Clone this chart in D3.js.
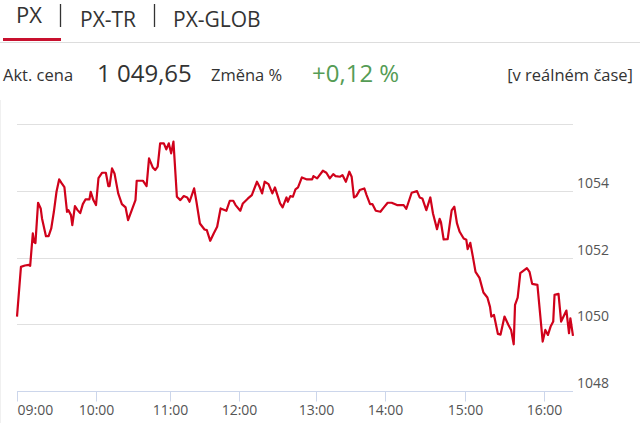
<!DOCTYPE html>
<html>
<head>
<meta charset="utf-8">
<script src="https://cdn.jsdelivr.net/npm/d3@7"></script>
<style>
  html, body { margin: 0; padding: 0; background: #fff; }
  svg { display: block; font-family: "Open Sans", sans-serif; }
</style>
</head>
<body>
<div id="chart"></div>
<script>
// tabs and header values
const tabs = ["PX", "PX-TR", "PX-GLOB"];
const priceLabel = "Akt. cena", priceValue = "1 049,65";
const changeLabel = "Změna %", changeValue = "+0,12 %";
const realtimeLabel = "[v reálném čase]";

// x tick labels (hours) and end of session shown
const xTicks = ["09:00", "10:00", "11:00", "12:00", "13:00", "14:00", "15:00", "16:00"];
const xEnd = "16:22";
// y ticks
const yTicks = [1048, 1050, 1052, 1054, 1056];

// intraday PX index values
const times = [
  "09:00","09:03","09:06","09:09","09:10","09:12","09:13","09:14","09:16","09:18",
  "09:19","09:22","09:24","09:26","09:28","09:30","09:32","09:34","09:36","09:38",
  "09:39","09:41","09:42","09:44","09:46","09:48","09:50","09:52","09:55","09:56",
  "09:58","10:00","10:02","10:05","10:08","10:10","10:11","10:13","10:15","10:18",
  "10:21","10:24","10:26","10:29","10:32","10:33","10:38","10:41","10:43","10:46",
  "10:48","10:50","10:52","10:55","10:57","10:59","11:01","11:03","11:06","11:09",
  "11:12","11:15","11:17","11:21","11:23","11:26","11:30","11:32","11:35","11:38",
  "11:41","11:44","11:49","11:52","11:55","11:57","12:01","12:03","12:07","12:10",
  "12:14","12:16","12:18","12:20","12:23","12:26","12:28","12:32","12:34","12:37",
  "12:38","12:40","12:42","12:44","12:46","12:49","12:53","12:57","12:58","13:01",
  "13:06","13:09","13:12","13:15","13:17","13:21","13:23","13:26","13:29","13:31",
  "13:33","13:35","13:38","13:42","13:44","13:47","13:49","13:52","13:56","13:59",
  "14:02","14:05","14:09","14:14","14:16","14:20","14:24","14:26","14:28","14:31",
  "14:34","14:36","14:39","14:41","14:42","14:44","14:47","14:50","14:52","14:54",
  "14:56","14:59","15:01","15:02","15:04","15:06","15:08","15:11","15:14","15:17",
  "15:19","15:20","15:22","15:25","15:27","15:30","15:33","15:35","15:37","15:38",
  "15:40","15:42","15:47","15:49","15:51","15:55","15:59","16:01","16:03","16:05",
  "16:07","16:08","16:11","16:13","16:17","16:19","16:20","16:22"
];
const values = [
  1050.23,1051.72,1051.76,1051.78,1051.75,1052.72,1052.46,1052.43,1053.64,1053.47,
  1053.17,1052.64,1052.64,1052.87,1053.37,1053.97,1054.34,1054.22,1054.11,1053.37,
  1053.42,1053.27,1052.97,1053.54,1053.42,1053.33,1053.60,1053.74,1053.74,1053.97,
  1053.72,1053.57,1054.38,1054.54,1054.54,1054.14,1054.14,1054.67,1054.52,1053.92,
  1053.60,1053.50,1053.12,1053.42,1053.72,1054.30,1054.30,1054.14,1054.97,1054.70,
  1054.62,1054.72,1055.42,1055.42,1055.24,1055.42,1055.12,1055.47,1053.82,1053.72,
  1053.84,1053.80,1053.67,1054.07,1053.67,1053.02,1052.84,1052.82,1052.50,1052.72,
  1052.92,1053.47,1053.40,1053.70,1053.70,1053.57,1053.40,1053.62,1053.77,1053.87,
  1054.27,1054.12,1053.92,1054.27,1054.20,1053.92,1054.10,1053.62,1053.50,1053.80,
  1053.67,1053.84,1053.82,1054.04,1054.10,1054.40,1054.34,1054.34,1054.44,1054.37,
  1054.60,1054.54,1054.37,1054.50,1054.44,1054.42,1054.47,1054.27,1054.57,1054.42,
  1053.80,1053.84,1054.02,1054.07,1053.87,1053.60,1053.60,1053.40,1053.37,1053.50,
  1053.64,1053.64,1053.57,1053.57,1053.46,1053.94,1053.99,1053.80,1053.77,1053.42,
  1053.80,1053.32,1052.85,1053.16,1053.05,1052.54,1052.55,1053.41,1053.52,1053.02,
  1052.77,1052.57,1052.53,1052.25,1052.44,1052.02,1051.57,1051.39,1050.95,1050.80,
  1050.52,1050.23,1050.28,1049.71,1049.69,1050.23,1049.98,1049.83,1049.40,1050.58,
  1050.80,1051.53,1051.68,1051.57,1051.21,1051.18,1049.48,1049.83,1049.68,1049.93,
  1050.08,1050.88,1050.91,1050.08,1050.41,1049.73,1050.18,1049.65
];

const W = 640, H = 423;
const parseT = d3.timeParse("%H:%M");
const data = times.map((t, i) => ({ t: parseT(t), v: values[i] }));

let svg = d3.select("#chart").append("svg")
  .attr("width", W).attr("height", H);

// ---- header tabs
const tabX = [16, 80, 173];
svg.selectAll("text.tab").data(tabs).enter().append("text")
  .attr("class", "tab")
  .attr("x", (d, i) => tabX[i])
  .attr("y", (d, i) => i === 0 ? 23 : 27)
  .style("font-size", (d, i) => i === 0 ? "22px" : "21px")
  .style("fill", "#333")
  .text(d => d);
[60.5, 154.5].forEach(x => {
  svg.append("line").attr("x1", x).attr("x2", x).attr("y1", 4).attr("y2", 27)
    .style("stroke", "#333").style("stroke-width", 1.3);
});
svg.append("line").attr("x1", 0).attr("x2", W).attr("y1", 42.5).attr("y2", 42.5)
  .style("stroke", "#ddd");
svg.append("rect").attr("x", 3).attr("y", 38).attr("width", 58).attr("height", 3)
  .style("fill", "#c8102e");

// ---- price row
const row = 81;
svg.append("text").attr("x", 3).attr("y", row).style("font-size", "16.5px").style("fill", "#333").text(priceLabel);
svg.append("text").attr("x", 97).attr("y", row + 1).style("font-size", "24px").style("fill", "#333").text(priceValue);
svg.append("text").attr("x", 211).attr("y", row).style("font-size", "16.5px").style("fill", "#333").text(changeLabel);
svg.append("text").attr("x", 312).attr("y", row + 1).style("font-size", "24px").style("fill", "#559c55").text(changeValue);
svg.append("text").attr("x", 633).attr("y", row).attr("text-anchor", "end")
  .style("font-size", "16.5px").style("fill", "#333").text(realtimeLabel);

// ---- chart
const plotLeft = 17, plotRight = 573, plotTop = 124, plotBottom = 391;
const tickPx = [17, 96, 170, 239, 316, 385, 465, 544];

// the session axis is not uniform in time, so a piecewise time scale
let x = d3.scaleTime()
  .domain(xTicks.map(parseT).concat([parseT(xEnd)]))
  .range(tickPx.concat([plotRight]));
let y = d3.scaleLinear().domain([1048, 1056]).range([plotBottom, plotTop]);

// faint page edge
svg.append("line").attr("x1", 0.5).attr("x2", 0.5).attr("y1", 100).attr("y2", H)
  .style("stroke", "#f0f0f0");

// grid
svg.append("g").selectAll("line").data(yTicks.filter(d => d !== 1048)).enter().append("line")
  .attr("x1", plotLeft).attr("x2", plotRight)
  .attr("y1", d => Math.round(y(d)) + 0.5).attr("y2", d => Math.round(y(d)) + 0.5)
  .style("stroke", "#e0e0e0");

// y labels
svg.append("g").selectAll("text").data(yTicks.filter(d => d !== 1056)).enter().append("text")
  .attr("x", 577).attr("y", d => y(d) - 3)
  .style("font-size", "14px").style("fill", "#555")
  .text(d => d);

// x axis
let xAxis = d3.axisBottom(x)
  .tickValues(xTicks.map(parseT))
  .tickFormat(d3.timeFormat("%H:%M"))
  .tickSizeInner(10).tickSizeOuter(0).tickPadding(4);
let gx = svg.append("g").attr("transform", "translate(0," + (plotBottom + 0.5) + ")").call(xAxis);
gx.select(".domain").attr("d", "M" + plotLeft + ",0H" + plotRight).style("stroke", "#ccd6eb");
gx.selectAll(".tick line").style("stroke", "#ccd6eb");
gx.selectAll(".tick text")
  .style("font-family", "Open Sans, sans-serif").style("font-size", "14px").style("fill", "#555")
  .attr("text-anchor", (d, i) => i === 0 ? "start" : "middle");

// price line
let line = d3.line().x(d => x(d.t)).y(d => y(d.v));
svg.append("path").datum(data)
  .attr("d", line)
  .style("fill", "none")
  .style("stroke", "#d0021b")
  .style("stroke-width", 2.2)
  .style("stroke-linejoin", "round");
</script>
</body>
</html>
